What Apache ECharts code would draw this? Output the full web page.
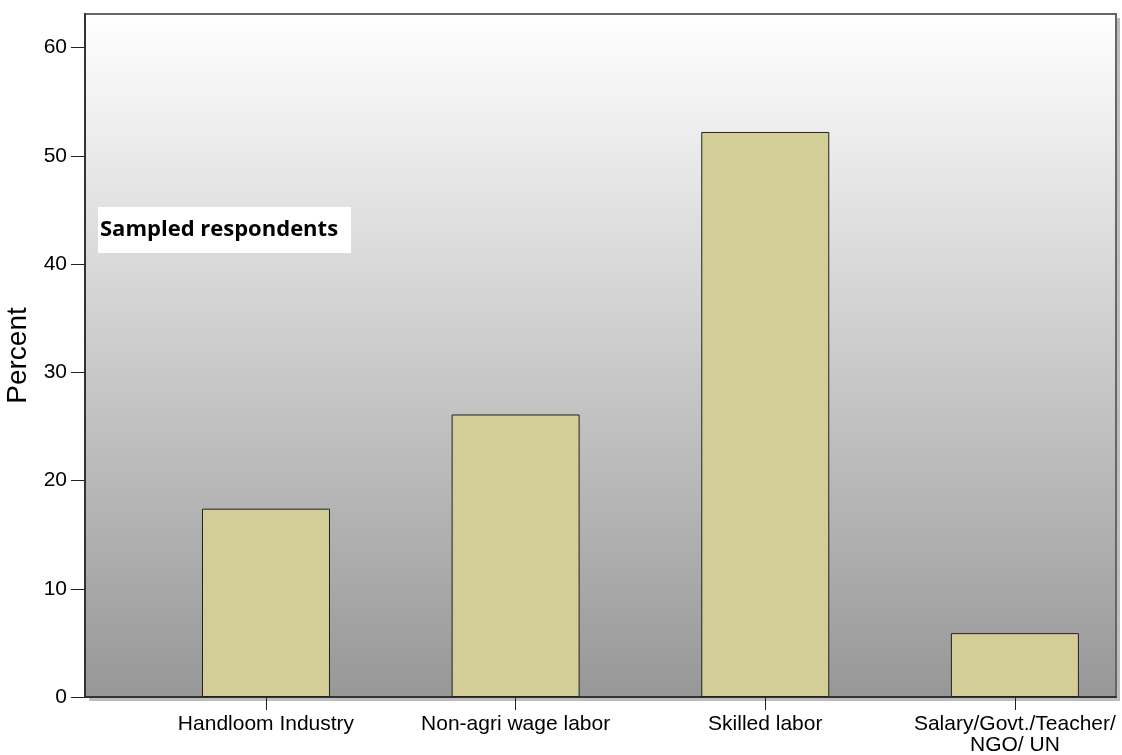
<!DOCTYPE html>
<html>
<head>
<meta charset="utf-8">
<script src="https://cdn.jsdelivr.net/npm/echarts@6/dist/echarts.min.js"></script>
<style>
html,body{margin:0;padding:0;background:#fff;}
#chart{width:1122px;height:755px;}
</style>
</head>
<body>
<div id="chart"></div>
<script>
const categories = ["Handloom Industry", "Non-agri wage labor", "Skilled labor", "Salary/Govt./Teacher/\nNGO/ UN"];
const percentValues = [17.4, 26.1, 52.2, 5.9];
const yTicks = [0, 10, 20, 30, 40, 50, 60];
const annotationText = "Sampled respondents";
const yAxisTitle = "Percent";

const chart = echarts.init(document.getElementById('chart'));
const seriesData = percentValues.map((v, i) => [i + 1, v]);

chart.setOption({
  animation: false,
  grid: {
    left: 85, right: 6, top: 14, bottom: 58,
    outerBoundsMode: 'none',
    containLabel: false,
    show: true,
    backgroundColor: new echarts.graphic.LinearGradient(0, 0, 0, 1, [
      { offset: 0, color: '#ffffff' },
      { offset: 1, color: '#979797' }
    ]),
    borderColor: '#666',
    borderWidth: 2
  },
  xAxis: {
    type: 'value',
    min: 0.275,
    max: 4.405,
    interval: 1,
    splitLine: { show: false },
    axisLine: { show: true, onZero: false, lineStyle: { color: '#333', width: 2 } },
    axisTick: { show: true, length: 13, lineStyle: { color: '#222', width: 1 },
      customValues: [1, 2, 3, 4] },
    axisLabel: {
      customValues: [1, 2, 3, 4],
      formatter: v => categories[Math.round(v) - 1] || '',
      color: '#000', fontFamily: 'Arial, "Liberation Sans"', fontSize: 21,
      lineHeight: 21, margin: 17, align: 'center'
    }
  },
  yAxis: {
    type: 'value',
    min: 0,
    max: 63.1,
    name: yAxisTitle,
    nameLocation: 'middle',
    nameGap: 52,
    nameRotate: 90,
    nameTextStyle: { color: '#000', fontFamily: 'Arial, "Liberation Sans"', fontSize: 28 },
    splitLine: { show: false },
    axisLine: { show: true, lineStyle: { color: '#333', width: 2 } },
    axisTick: { show: true, length: 14, lineStyle: { color: '#222', width: 1 },
      customValues: yTicks },
    axisLabel: {
      customValues: yTicks,
      color: '#000', fontFamily: 'Arial, "Liberation Sans"', fontSize: 21, margin: 18
    }
  },
  series: [{
    type: 'bar',
    data: seriesData,
    barWidth: 128,
    itemStyle: {
      color: '#D3CE98',
      borderColor: '#222',
      borderWidth: 1
    }
  }],
  graphic: [
    { type: 'rect', z: -10, shape: { x: 89, y: 18, width: 1031, height: 683 }, style: { fill: '#bdbdbd' }, silent: true },
    {
      type: 'group',
      left: 98, top: 207,
      children: [
        { type: 'rect', shape: { x: 0, y: 0, width: 253, height: 46 }, style: { fill: '#fff' } },
        { type: 'text', x: 2, y: 23, style: { text: annotationText, fill: '#000',
          font: 'bold 22px "Open Sans", "Noto Sans", sans-serif', verticalAlign: 'middle' } }
      ]
    }
  ]
});
</script>
</body>
</html>
